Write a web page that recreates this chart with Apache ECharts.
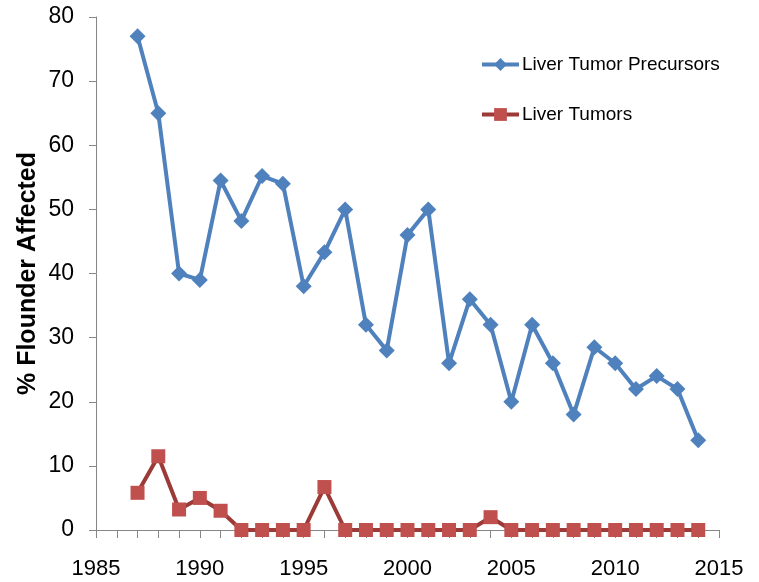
<!DOCTYPE html>
<html>
<head>
<meta charset="utf-8">
<script src="https://cdn.jsdelivr.net/npm/echarts@6/dist/echarts.min.js"></script>
<style>
  html, body { margin: 0; padding: 0; background: #fff; }
  #main { width: 759px; height: 582px; }
</style>
</head>
<body>
<div id="main"></div>
<script>
// years on the x axis
var years = [1987, 1988, 1989, 1990, 1991, 1992, 1993, 1994, 1995, 1996, 1997, 1998, 1999, 2000,
  2001, 2002, 2003, 2004, 2005, 2006, 2007, 2008, 2009, 2010, 2011, 2012, 2013, 2014]
// % affected
var precursors = [77, 65, 40, 39, 54.5, 48.2, 55.2, 54, 38, 43.3, 50, 32, 28, 46,
  50, 26, 36, 32, 20, 32, 26, 18, 28.5, 26, 22, 24, 22, 14]
var tumors = [5.8, 11.5, 3.2, 5, 3, 0, 0, 0, 0, 6.7, 0, 0, 0, 0,
  0, 0, 0, 2, 0, 0, 0, 0, 0, 0, 0, 0, 0, 0]

function pairs (vals) {
  return years.map(function (y, i) { return [y, vals[i]] })
}

var font = '"Liberation Sans", sans-serif'
var chart = echarts.init(document.getElementById('main'))
var option = {
  animation: false,
  grid: { left: 96, right: 40, top: 17, bottom: 52, containLabel: false },
  legend: {
    orient: 'vertical',
    left: 480,
    top: 55,
    padding: 0,
    itemGap: 31,
    itemWidth: 37,
    itemHeight: 16,
    lineStyle: { width: 4 },
    textStyle: { fontFamily: font, fontSize: 19, color: '#000', padding: [0, 0, 0, -2] },
    data: ['Liver Tumor Precursors', 'Liver Tumors']
  },
  xAxis: {
    type: 'value',
    min: 1985,
    max: 2015,
    interval: 5,
    axisLine: { lineStyle: { color: '#868686', width: 1 } },
    axisTick: { show: true, length: 8, lineStyle: { color: '#868686' } },
    minorTick: { show: true, splitNumber: 5, length: 8, lineStyle: { color: '#868686' } },
    splitLine: { show: false },
    axisLabel: { fontFamily: font, fontSize: 22, color: '#000', margin: 28, formatter: function (v) { return String(v) } }
  },
  yAxis: {
    type: 'value',
    min: 0,
    max: 80,
    interval: 10,
    name: '% Flounder Affected',
    nameLocation: 'middle',
    nameGap: 55,
    nameMoveOverlap: false,
    nameTextStyle: { fontFamily: font, fontSize: 25, fontWeight: 'bold', color: '#000' },
    axisLine: { show: true, lineStyle: { color: '#868686', width: 1 } },
    axisTick: { show: true, length: 7, lineStyle: { color: '#868686' } },
    splitLine: { show: false },
    axisLabel: { fontFamily: font, fontSize: 23, color: '#000', margin: 22 }
  },
  series: [
    {
      name: 'Liver Tumor Precursors',
      type: 'line',
      data: pairs(precursors),
      symbol: 'diamond',
      symbolSize: 16,
      lineStyle: { color: '#4F81BD', width: 4 },
      itemStyle: { color: '#4F81BD' }
    },
    {
      name: 'Liver Tumors',
      type: 'line',
      data: pairs(tumors),
      symbol: 'rect',
      symbolSize: 14,
      lineStyle: { color: '#9B3A37', width: 4 },
      itemStyle: { color: '#C0504D' }
    }
  ]
}
chart.setOption(option)
</script>
</body>
</html>
